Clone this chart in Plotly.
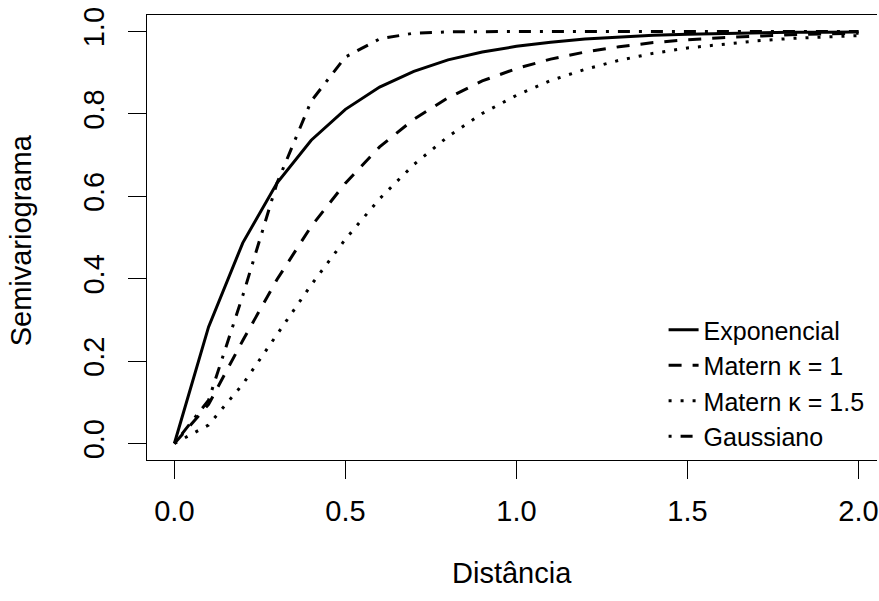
import plotly.graph_objects as go

# Data
dist = [0.0, 0.1, 0.2, 0.3, 0.4, 0.5, 0.6, 0.7, 0.8, 0.9, 1.0,
        1.1, 1.2, 1.3, 1.4, 1.5, 1.6, 1.7, 1.8, 1.9, 2.0]
exponencial = [0.0, 0.283, 0.487, 0.632, 0.736, 0.811, 0.865, 0.903, 0.931, 0.950, 0.964,
               0.974, 0.982, 0.987, 0.991, 0.993, 0.995, 0.997, 0.998, 0.998, 0.999]
matern_k1 = [0.0, 0.095, 0.250, 0.398, 0.527, 0.632, 0.720, 0.787, 0.839, 0.880, 0.910,
             0.933, 0.950, 0.963, 0.973, 0.980, 0.985, 0.989, 0.992, 0.994, 0.996]
matern_k15 = [0.0, 0.045, 0.144, 0.264, 0.385, 0.496, 0.594, 0.677, 0.745, 0.801, 0.845,
              0.881, 0.908, 0.930, 0.947, 0.960, 0.969, 0.977, 0.983, 0.987, 0.990]
gaussiano = [0.0, 0.105, 0.359, 0.632, 0.831, 0.938, 0.982, 0.996, 0.999, 1.0, 1.0,
             1.0, 1.0, 1.0, 1.0, 1.0, 1.0, 1.0, 1.0, 1.0, 1.0]

series_names = ["Exponencial", "Matern κ = 1", "Matern κ = 1.5", "Gaussiano"]
x_ticks = [0.0, 0.5, 1.0, 1.5, 2.0]
y_ticks = [0.0, 0.2, 0.4, 0.6, 0.8, 1.0]

FONT = "Liberation Sans, Arial, Helvetica, sans-serif"
FS = 29
LFS = 25
LW = 3

dashes = ["solid", "13px,11px", "3px,9px", "3px,9px,12px,9px"]
series = [exponencial, matern_k1, matern_k15, gaussiano]

fig = go.Figure()
for name, ys, d in zip(series_names, series, dashes):
    fig.add_trace(go.Scatter(
        x=dist, y=ys, mode="lines", name=name,
        line=dict(color="black", width=LW, dash=d),
    ))

fig.update_layout(
    width=879, height=601,
    margin=dict(l=147, r=0, t=15, b=141, pad=0),
    plot_bgcolor="white", paper_bgcolor="white",
    font=dict(family=FONT, size=FS, color="black"),
    showlegend=True,
    legend=dict(
        x=(665 - 147) / 732, y=1 - (307 - 15) / 445,
        xanchor="left", yanchor="top",
        bgcolor="rgba(0,0,0,0)", borderwidth=0,
        font=dict(family=FONT, size=LFS, color="black"),
        tracegroupgap=0, itemwidth=30,
    ),
    xaxis=dict(
        range=[-0.08, 2.054], tickvals=x_ticks, ticktext=[f"{v:.1f}" for v in x_ticks],
        showgrid=False, zeroline=False,
        showline=True, linecolor="black", linewidth=1, mirror=True,
        ticks="outside", ticklen=18, tickwidth=1, tickcolor="black",
        tickfont=dict(family=FONT, size=FS, color="black"),
        ticklabelstandoff=7, ticklabeloverflow="allow",
    ),
    yaxis=dict(
        range=[-0.04, 1.04], tickvals=y_ticks, ticktext=[f"{v:.1f}" for v in y_ticks],
        showgrid=False, zeroline=False,
        showline=True, linecolor="black", linewidth=1, mirror=False,
        ticks="outside", ticklen=18, tickwidth=1, tickcolor="black",
        tickangle=-90,
        tickfont=dict(family=FONT, size=FS, color="black"),
        ticklabelstandoff=12,
    ),
    annotations=[
        dict(text="Distância", xref="paper", yref="paper",
             x=0.5, y=(460 - 573) / 445, xanchor="center", yanchor="middle",
             showarrow=False, font=dict(family=FONT, size=FS, color="black")),
        dict(text="Semivariograma", xref="paper", yref="paper",
             x=(21 - 147) / 732, y=(460 - 240) / 445, xanchor="center", yanchor="middle",
             textangle=-90, showarrow=False, font=dict(family=FONT, size=FS, color="black")),
    ],
)

fig.write_html("out.html")
